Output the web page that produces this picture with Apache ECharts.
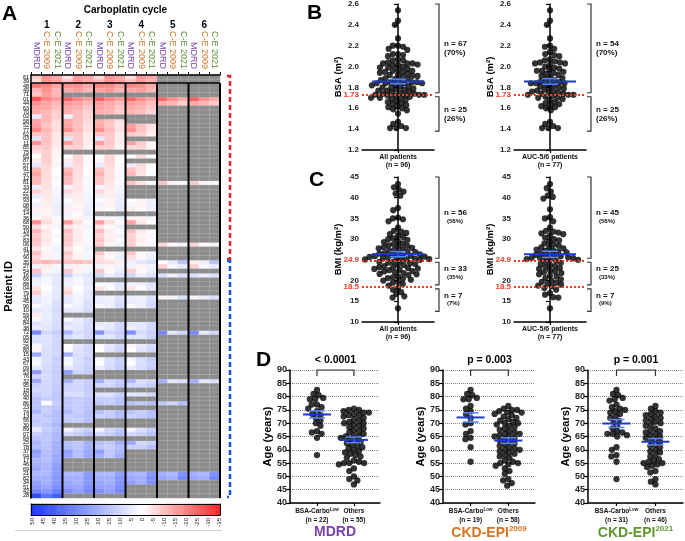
<!DOCTYPE html>
<html><head><meta charset="utf-8">
<script src="https://cdn.jsdelivr.net/npm/echarts@6/dist/echarts.min.js"></script>
<style>html,body{margin:0;padding:0;background:#fff}#c{width:685px;height:541px}</style>
</head><body><div id="c"></div>
<script>
// ---------------- DATA ----------------
const cycleNames = ['1','2','3','4','5','6'];
const formulaNames = ['MDRD','C-E 2009','C-E 2021'];
const patientIds = ['61','39','48','49','71','01','44','63','70','02','58','52','77','62','03','11','85','75','65','87','57','91','47','12','81','33','22','55','93','08','29','14','36','68','50','19','24','83','06','41','73','90','35','27','54','16','66','88','04','79','31','45','96','10','59','20','84','38','72','05','92','26','80','15','43','67','09','53','76','32','95','18','60','40','86','23','74','13','56','30','89','07','64','25','78','37','94','17','46','69','21','82','34','51','42','28'];
// % difference per cell: "MDRD C-E2009 C-E2021", "" = not given (grey)
const cycle1 = ["-8 -18 -14","-5 -18 -15","-22 -20 -15","-12 -18 -12","-10 -16 -12","-28 -20 -16","-18 -15 -12","-15 -14 -10","-14 -12 -8","5 -12 -8",
"-15 -12 -6","-16 -10 -5","-20 -12 -6","-10 -10 -4","6 -10 -4","-18 -10 -4","-8 -9 -3","-5 -8 -2","0 -8 -2","-3 -8 -1",
"6 -7 -2","-12 -6 0","-15 -6 0","-12 -6 2","-12 -5 0","4 -5 2","-8 -4 2","5 -4 3","2 -3 3","4 -3 4",
"-3 -2 4","3 -2 4","-2 -3 2","-18 -6 -2","-5 -2 3","-12 -4 0","-8 -3 2","-10 -4 0","-9 -3 2","-4 -1 3",
"-10 -2 2","-6 -2 3","-10 -12 -10","3 -3 2","-10 -2 3","12 4 6","4 2 5","3 2 6","-5 0 5","-8 2 6",
"5 3 6","6 3 8","2 4 8","6 5 9","-3 4 8","2 5 8","7 5 9","5 6 9","30 10 12","8 6 10",
"8 7 10","2 7 10","-2 8 10","22 8 10","3 8 12","1 8 11","6 9 12","25 10 12","10 9 12","22 10 12",
"12 10 13","10 10 13","12 10 14","15 12 14","15 0 12","15 12 14","18 12 16","12 14 16","14 12 16","12 14 18",
"5 12 16","12 14 18","15 14 18","18 14 20","16 15 20","25 16 20","22 16 22","18 16 22","20 18 24","22 18 25",
"18 18 25","20 20 26","24 20 26","26 22 28","30 26 32","45 35 40"];
const cycle2 = ["-4 -16 -14","-10 -17 -14","-18 -18 -14","-14 -16 -12","","-26 -20 -16","-17 -15 -12","-14 -13 -9","-13 -11 -7","4 -11 -7",
"-14 -11 -6","-15 -10 -5","-18 -11 -5","-9 -9 -3","6 -9 -3","-16 -9 -3","-7 -8 -2","","0 -7 -1","-3 -7 -1",
"5 -6 -1","-11 -6 0","-14 -5 0","-11 -5 2","-11 -4 1","3 -4 2","-7 -4 2","4 -3 3","1 -3 3","3 -2 4",
"-3 -2 4","3 -1 5","-2 -2 3","-16 -5 -1","-4 -2 3","-11 -3 1","-8 -3 2","-9 -3 1","-8 -2 2","-4 -1 3",
"-9 -2 2","-6 -2 3","-10 -11 -9","3 -2 2","-9 -2 3","11 4 6","4 2 5","3 2 6","-4 0 5","-7 2 6",
"5 3 6","6 3 8","2 4 8","6 5 9","","2 5 9","7 5 9","5 6 10","18 8 10","8 6 10",
"","0 6 10","1 7 10","20 8 10","3 8 12","1 8 11","6 9 12","24 10 12","","20 10 12",
"11 10 13","10 10 13","8 8 12","14 12 14","14 12 14","14 12 15","17 12 16","12 14 16","13 12 16","",
"2 8 12","10 12 16","","16 14 20","16 15 20","24 16 22","22 16 22","","","",
"18 18 25","20 20 26","22 20 26","24 22 28","28 24 30",""];
const cycle3 = ["-6 -18 -15","-12 -18 -15","-20 -19 -15","-15 -17 -12","","-26 -20 -16","-16 -14 -11","-15 -13 -9","-13 -12 -8","",
"-13 -10 -5","-14 -9 -4","-18 -11 -5","-10 -9 -3","5 -9 -3","-16 -9 -3","-8 -8 -2","","-1 -7 -1","-2 -7 0",
"5 -6 -1","-10 -5 1","-13 -5 1","-10 -5 2","-10 -4 1","3 -4 3","-7 -3 3","4 -3 4","1 -2 4","3 -2 5",
"-2 -1 5","","-1 -2 3","-16 -5 -1","-4 -1 4","-11 -3 1","-7 -2 3","-9 -3 1","-8 -2 3","",
"-9 -2 3","-5 -1 4","-6 -5 -3","3 -2 3","-9 -1 4","10 4 7","","2 2 6","-4 1 6","",
"4 3 7","5 4 8","2 4 9","","","","6 5 10","4 6 10","28 10 12","7 6 11",
"","-1 6 10","0 7 11","","2 8 12","0 8 12","5 9 13","","","20 10 13",
"10 10 14","","7 7 12","12 12 15","14 12 15","","16 12 17","11 13 16","","",
"2 10 14","10 12 16","","16 14 20","14 12 16","24 14 18","20 14 20","","","",
"18 18 24","20 20 26","22 20 27","24 22 28","28 24 30",""];
const cycle4 = ["-5 -17 -14","-10 -16 -13","-20 -18 -14","-14 -16 -12","","-25 -19 -15","-16 -14 -11","-14 -12 -9","-12 -11 -7","",
"","-16 -10 -5","-18 -10 -4","-9 -8 -3","","-15 -8 -2","-6 -7 -2","","0 -6 -1","",
"4 -6 -1","-10 -5 0","-12 -4 1","","-10 -4 1","","","","0 -2 4","2 -2 4",
"-3 -1 4","","-2 -2 3","-15 -4 0","","-10 -3 1","-7 -2 2","-8 -3 1","-8 -2 2","",
"-9 -1 3","-5 -1 4","4 6 8","3 -2 3","-8 -1 4","10 4 7","","3 3 7","-4 1 6","",
"4 3 7","5 4 9","1 4 9","","","","6 6 10","4 6 10","28 9 12","7 7 11",
"","-2 5 9","0 7 10","","2 9 13","0 8 12","5 9 13","","","18 8 10",
"10 10 13","","6 6 10","","15 13 16","","15 12 16","11 13 16","","",
"1 8 12","10 12 15","","22 10 12","12 12 16","","","","","",
"20 18 26","22 20 28","24 20 28","","",""];
const cycle5 = ["","","","","","-25 -18 -14","-14 -12 -8","","","",
"","","","","","","","","","",
"","","","","-10 -2 2","","","","","",
"","","","","","","","","-7 -1 3","",
"","","0 5 15","-8 2 5","","8 3 8","","","","",
"-2 3 8","","","","","","","","30 6 10","",
"","","","","","","","","","20 6 8",
"","","","","14 10 16","","","","","",
"","","","","","","","","","",
"20 18 28","22 20 30","","","",""];
const cycle6 = ["","","","","","-26 -18 -14","-14 -12 -9","","","",
"","","","","","","","","","",
"","","","","-9 -2 2","","","","","",
"","","","","","","","","-7 -1 3","",
"","","-3 4 15","-8 2 5","","8 4 8","","","","",
"-2 4 8","","","","","","","","30 5 10","",
"","","","","","","","","","20 6 8",
"","","","","","","","","","",
"","","","","","","","","","",
"20 18 28","22 20 30","","","",""];
const colorbarTicks = [50,45,40,35,30,25,20,15,10,5,0,-5,-10,-15,-20,-25,-30,-35];
const rowGroups = [42, 54];

const bsaAll = [2.54,2.44,2.40,2.27,2.20,2.20,2.19,2.17,2.16,2.12,2.12,2.11,2.10,2.07,2.06,2.06,2.04,2.03,2.03,2.03,
2.02,2.02,2.01,2.00,1.99,1.99,1.98,1.97,1.96,1.96,1.95,1.95,1.94,1.93,1.92,1.92,1.91,1.91,1.90,1.89,
1.88,1.88,1.87,1.86,1.85,1.85,1.85,1.84,1.84,1.84,1.84,1.83,1.82,1.81,1.81,1.80,1.80,1.79,1.78,1.78,
1.77,1.77,1.76,1.75,1.75,1.74,1.74,1.73,1.73,1.73,1.73,
1.72,1.72,1.71,1.70,1.70,1.70,1.69,1.68,1.67,1.66,1.65,1.64,1.63,1.62,1.61,1.60,1.59,1.58,1.55,1.47,1.45,1.43,1.41,1.41,1.41];
const bsaAuc = [2.54,2.44,2.40,2.27,2.20,2.19,2.17,2.14,2.12,2.11,2.10,2.07,2.06,2.05,2.04,2.04,2.03,2.03,2.02,2.00,
1.99,1.98,1.97,1.96,1.95,1.94,1.93,1.92,1.91,1.90,1.89,1.88,1.87,1.86,1.85,1.85,1.84,1.84,1.84,1.83,
1.82,1.81,1.80,1.80,1.79,1.78,1.77,1.77,1.76,1.75,1.75,1.74,1.74,1.96,1.73,1.73,1.73,
1.72,1.71,1.70,1.70,1.69,1.68,1.66,1.65,1.64,1.63,1.62,1.61,1.60,1.58,1.47,1.45,1.43,1.41,1.41,1.41];
const bmiAll = [43.3,42.5,42.0,41.5,41.0,40.5,37.5,37.0,35.2,35.0,34.8,34.3,32.8,32.0,31.8,31.5,31.2,30.8,30.5,30.2,
29.8,29.5,29.3,29.0,28.8,28.5,28.2,28.0,27.8,27.6,27.4,27.2,27.0,26.9,26.7,26.6,26.5,26.3,26.2,26.0,
26.0,25.9,25.8,25.7,25.6,25.5,25.4,25.3,25.2,25.1,25.1,25.0,25.0,27.9,28.4,30.0,
24.8,24.6,24.5,24.3,24.2,24.0,23.8,23.7,23.5,23.3,23.2,23.0,22.9,22.8,22.6,22.5,22.3,22.2,22.0,21.8,
21.6,21.5,21.3,21.0,20.8,20.6,20.5,20.2,20.0,19.7,19.5,19.2,18.8,
18.2,17.8,17.2,16.8,16.2,15.9,13.3];
const bmiAuc = [43.3,42.3,41.5,40.5,40.2,39.8,37.2,35.3,35.0,34.3,32.8,32.0,31.8,31.6,31.4,31.2,30.8,30.4,30.0,29.7,
29.4,29.0,28.7,28.4,28.1,27.8,27.5,27.3,27.0,26.8,26.6,26.4,26.2,26.0,25.9,25.8,25.6,25.5,25.4,25.3,
25.2,25.1,25.0,28.0,27.2,
24.8,24.5,24.3,24.0,23.8,23.5,23.2,23.0,22.8,22.5,22.2,22.0,21.8,21.5,21.2,21.0,20.6,20.3,20.0,19.7,
19.5,19.2,19.0,18.8,18.6,
18.2,17.8,17.0,16.6,16.0,15.9,13.3];
const ageMdrdLow = [82.5,81,80.5,79.5,79,79,77,77,76,75.5,74.5,73.5,73,72,71,70,69,67,66.5,66,64.5,58];
const ageMdrdOthers = [75.5,75,75,74.5,74,74,73.5,73,73,72.5,72,71.5,71,70.5,70,70,69.5,69,68.5,68,
67.5,67,66.5,66,65.5,65,65,64.5,64,63.5,63,62.5,62,61.5,61,60.5,60,59.5,59,58.5,
58,57.5,57,56,55.5,55,55,55,54.5,53,52,50,49,48.5,47];
const ageCke09Low = [82.5,81,80.5,79.5,79,79,76.5,75.5,74.5,73.5,72,70,69.5,67,66,64.5,64,61,55.5];
const ageCke09Others = [76.5,75.5,75,75,74.5,74,74,73.5,73,72.5,72,71.5,71,70.5,70,70,69.5,69,68.5,68,
67.5,67,66.5,66,66,65.5,65,65,64.5,64,63.5,63,62.5,62,61.5,61,60.5,60,59.5,59,
58.5,58,57.5,57,56,55.5,55,55,54.5,54,53,52,51,49,48.5,47.5,46.5,60];
const ageCke21Low = [82.5,81,80.5,79.5,79,78.5,77,76,75.5,75,74.5,74,73.5,72.5,72,71,70.5,69,68,67,
66.5,66,66,65.5,65,61,60,58,57.5,55.5,49];
const ageCke21Others = [76.5,75.5,74.5,74,73.5,73,72.5,72,71.5,71,70.5,70,69.5,69,68,67.5,67,66.5,66,65.5,
65,64.5,64,63.5,63,62,61.5,61,60,59.5,59,58,57.5,56.5,56,55.5,55,55,54.5,54,53.5,52,51.5,49,48,47];
const bsaCuts = [1.73];
const bmiCuts = [24.9, 18.5];
const bsaAllLabels = [['n = 67','(70%)'],['n = 25','(26%)']];
const bsaAucLabels = [['n = 54','(70%)'],['n = 25','(26%)']];
const bmiAllLabels = [['n = 56','(58%)'],['n = 33','(35%)'],['n = 7','(7%)']];
const bmiAucLabels = [['n = 45','(58%)'],['n = 25','(33%)'],['n = 7','(9%)']];
const pValues = ['< 0.0001','p = 0.003','p = 0.001'];

// ---------------- STYLE / LAYOUT ----------------
const FONT = "'Liberation Sans', Arial, sans-serif";
const formulaColors = ['#7b45b5','#d07628','#5a8c33'];
const titleColors = ['#7a3fb0','#d9731f','#5e9631'];
const meanColor = '#1a3ad6', semColor = '#5a86f5', cutColor = '#ee3a24';
const G = {
  heat:{left:31, top:75, width:189, height:423},
  cb:{left:31, top:504, width:189, height:11},
  b1:{left:362, top:4, width:72, height:146}, b2:{left:514, top:4, width:72, height:146},
  c1:{left:362, top:177, width:72, height:145}, c2:{left:514, top:177, width:72, height:145},
  d1:{left:290, top:370, width:90, height:133}, d2:{left:443, top:370, width:92, height:133}, d3:{left:588, top:370, width:95, height:133}
};
const BSA_R = [1.2, 2.6, 0.2], BMI_R = [10, 45, 5], AGE_R = [40, 90, 5];
const DOT = 6.2, DDOT = 6.3;
const PACK = 0.84;   // dots may overlap slightly, as in the original
const lowX = 0.6, othX = 1.42;

// ---------------- HELPERS ----------------
function swarm(vals, center, pxX, pxY, d) {
  const idx = vals.map((_, i) => i).sort((a, b) => vals[b] - vals[a]);
  const placed = [], out = [];
  for (const i of idx) {
    const y = vals[i] * pxY;
    const cands = [0];
    for (const p of placed) {
      const dy = y - p.y;
      if (Math.abs(dy) < d) { const dx = Math.sqrt(d*d - dy*dy); cands.push(p.x + dx, p.x - dx); }
    }
    cands.sort((a, b) => Math.abs(a) - Math.abs(b) || a - b);
    let bx = 0;
    for (const c of cands) {
      let ok = true;
      for (const p of placed) { const dx = p.x - c, dy = p.y - y; if (dx*dx + dy*dy < d*d - 1e-6) { ok = false; break; } }
      if (ok) { bx = c; break; }
    }
    placed.push({x: bx, y});
    out.push([center + bx / pxX, vals[i]]);
  }
  return out;
}
function stats(v) {
  const n = v.length, m = v.reduce((a, b) => a + b, 0) / n;
  const sd = Math.sqrt(v.reduce((a, b) => a + (b - m) * (b - m), 0) / (n - 1));
  return [m, sd / Math.sqrt(n)];
}
function colorAt(v) {
  let r, g, b;
  if (v < 0) { const t = Math.min(1, -v / 35); r = 255; g = b = Math.round(255 - 215 * t); }
  else { const t = Math.min(1, v / 50); r = Math.round(255 - 230 * t); g = Math.round(255 - 200 * t); b = 255; }
  return `rgb(${r},${g},${b})`;
}
const cbMin = Math.min(...colorbarTicks), cbMax = Math.max(...colorbarTicks);
const cbColors = [];
for (let v = cbMin; v <= cbMax; v += 5) cbColors.push(colorAt(v));

// heatmap data
const cycles = [cycle1, cycle2, cycle3, cycle4, cycle5, cycle6].map(a => a.map(s => s ? s.split(' ').map(Number) : null));
const colCats = [];
cycleNames.forEach(c => formulaNames.forEach((f, k) => colCats.push({value: c + ' ' + f, textStyle: {color: formulaColors[k]}})));
const heatData = [], grayData = [];
for (let r = 0; r < patientIds.length; r++) {
  for (let c = 0; c < cycles.length; c++) {
    const cell = cycles[c][r];
    for (let f = 0; f < formulaNames.length; f++) {
      const x = c * formulaNames.length + f;
      if (cell) heatData.push([x, r, cell[f]]); else grayData.push([x, r, 0]);
    }
  }
}
const cbCats = [];
for (let v = cbMax; v >= cbMin; v--) cbCats.push(String(v));
const cbSet = new Set(colorbarTicks.map(String));
const rowSpans = []; { let s = 0; rowGroups.forEach(n => { rowSpans.push([s, s + n - 1]); s += n; }); }
const bracketColors = ['#e8262a', '#1f4fe0'];
const sepData = []; for (let k = 0; k <= cycleNames.length; k++) sepData.push([k * formulaNames.length, 0]);

// ---------------- OPTION PIECES ----------------
const grids = [G.heat, G.heat, G.cb, G.b1, G.b2, G.c1, G.c2, G.d1, G.d2, G.d3];
const blackLine = {lineStyle: {color: '#000', width: 1.5}};
const xAxes = [
  {gridIndex:0, type:'category', position:'top', data:colCats, z:10, axisLine:blackLine,
    axisTick:{show:true, length:3, interval:0, lineStyle:{color:'#000'}},
    axisLabel:{interval:0, rotate:90, margin:6, fontSize:9, fontFamily:FONT, formatter: v => v.slice(v.indexOf(' ') + 1)}, splitLine:{show:false}},
  {gridIndex:1, type:'value', position:'top', min:0, max:cycleNames.length*formulaNames.length, interval:formulaNames.length,
    axisLine:{show:false}, axisTick:{show:true, length:48, lineStyle:{color:'#000', width:2}}, axisLabel:{show:false}, splitLine:{show:false}},
  {gridIndex:1, type:'category', position:'top', offset:53, data:cycleNames, axisLine:{show:false}, axisTick:{show:false},
    axisLabel:{fontSize:10, fontWeight:'bold', margin:0, color:'#000', fontFamily:FONT},
    name:'Carboplatin cycle', nameLocation:'middle', nameGap:12, nameTextStyle:{fontSize:10, fontWeight:'bold', color:'#000', fontFamily:FONT}},
  {gridIndex:2, type:'category', data:cbCats, position:'bottom', z:10, axisLine:{lineStyle:{color:'#000', width:1}},
    axisTick:{inside:true, length:3, alignWithLabel:true, interval:(i, v) => cbSet.has(v), lineStyle:{color:'#000'}},
    axisLabel:{rotate:90, fontSize:6, margin:3, color:'#222', fontFamily:FONT, interval:(i, v) => cbSet.has(v)}},
  {gridIndex:2, type:'category', data:cbCats, position:'top', z:10, axisLine:{lineStyle:{color:'#000', width:1}}, axisTick:{show:false}, axisLabel:{show:false}}
];
const yAxes = [
  {gridIndex:0, type:'category', data:patientIds, inverse:true, z:10, axisLine:blackLine,
    axisTick:{length:2, interval:0, lineStyle:{color:'#000', width:0.5}},
    axisLabel:{interval:0, fontSize:5.5, margin:2, color:'#000', fontFamily:FONT},
    name:'Patient ID', nameLocation:'middle', nameGap:17, nameRotate:90, nameTextStyle:{fontSize:11, fontWeight:'bold', color:'#000', fontFamily:FONT}},
  {gridIndex:1, type:'value', min:0, max:1, show:false},
  {gridIndex:2, type:'category', data:[''], z:10, axisLine:{lineStyle:{color:'#000', width:1}}, axisTick:{show:false}, axisLabel:{show:false}},
  {gridIndex:2, type:'category', data:[''], position:'right', z:10, axisLine:{lineStyle:{color:'#000', width:1}}, axisTick:{show:false}, axisLabel:{show:false}}
];
const series = [
  {type:'heatmap', xAxisIndex:0, yAxisIndex:0, data:heatData, itemStyle:{borderColor:'rgba(255,255,255,0.25)', borderWidth:0.4}},
  {type:'heatmap', xAxisIndex:0, yAxisIndex:0, data:grayData, itemStyle:{color:'#8c8c8c', borderColor:'rgba(255,255,255,0.3)', borderWidth:0.5}},
  {type:'custom', xAxisIndex:1, yAxisIndex:1, z:5, clip:false, data:sepData,
    renderItem:(params, api) => {
      const cs = params.coordSys, x = api.coord([api.value(0), 0])[0];
      const ch = [{type:'line', shape:{x1:x, y1:cs.y, x2:x, y2:cs.y + cs.height}, style:{stroke:'#000', lineWidth:2}}];
      if (params.dataIndex === 0) ch.push({type:'line', shape:{x1:cs.x, y1:cs.y, x2:cs.x + cs.width, y2:cs.y}, style:{stroke:'#000', lineWidth:1.5}});
      return {type:'group', children:ch};
    }},
  {type:'custom', xAxisIndex:0, yAxisIndex:0, z:5, clip:false, data:rowSpans.map(s => [0, s[0]]),
    renderItem:(params, api) => {
      const cs = params.coordSys, s = rowSpans[params.dataIndex], band = api.size([0, 1])[1];
      const top = api.coord([0, s[0]])[1] - band / 2 + 1, bot = api.coord([0, s[1]])[1] + band / 2 - 1;
      const x = cs.x + cs.width + 10;
      return {type:'polyline', shape:{points:[[x - 3, top], [x, top], [x, bot], [x - 3, bot]]},
        style:{stroke:bracketColors[params.dataIndex], lineWidth:2.5, lineDash:[5, 3], fill:'none'}};
    }},
  {type:'heatmap', xAxisIndex:3, yAxisIndex:2, data:cbCats.map((v, i) => [i, 0, Number(v)])}
];

// scatter panels
function addScatterPanel(gi, vals, range, cuts, labels, xLabel, yName, smallPct, hide) {
  const g = grids[gi];
  const xi = xAxes.length, yi = yAxes.length;
  xAxes.push({gridIndex:gi, type:'value', min:-1, max:1, axisLine:blackLine,
    axisTick:{customValues:[0], length:3, lineStyle:{color:'#000', width:1.2}},
    axisLabel:{customValues:[0], formatter:() => xLabel, fontSize:7, fontWeight:'bold', lineHeight:8, margin:3, color:'#111', fontFamily:FONT}, splitLine:{show:false}});
  yAxes.push({gridIndex:gi, type:'value', min:range[0], max:range[1], interval:range[2],
    axisLine:{show:true, lineStyle:{color:'#000', width:1.5}}, axisTick:{show:true, length:4, lineStyle:{color:'#000', width:1.2}},
    axisLabel:{fontSize:8, fontWeight:'bold', color:'#222', margin:3, fontFamily:FONT,
      formatter: v => (hide !== undefined && Math.abs(v - hide) < 1e-9) ? '' : (range[2] < 1 ? v.toFixed(1) : String(v))},
    splitLine:{show:false}, name:yName, nameLocation:'middle', nameGap:19, nameTextStyle:{fontSize:9.5, fontWeight:'bold', color:'#000', fontFamily:FONT}});
  const pxY = g.height / (range[1] - range[0]), pxX = g.width / 2;
  series.push({type:'scatter', xAxisIndex:xi, yAxisIndex:yi, z:3, symbolSize:DOT, itemStyle:{color:'#000'},
    data: swarm(vals, 0, pxX, pxY, DOT * PACK),
    markLine:{silent:true, symbol:['none','none'], animation:false,
      lineStyle:{color:cutColor, type:'dotted', width:2},
      label:{show:true, position:'start', distance:3, formatter: p => String(p.value), color:cutColor, fontSize:8, fontWeight:'bold', fontFamily:FONT},
      data: cuts.map(c => ({yAxis:c}))}});
  const st = stats(vals);
  series.push(meanSeries(xi, yi, [[0, st[0], st[1]]], 26, 8));
  const bounds = [range[1], ...cuts, Math.min(...vals)];
  series.push({type:'custom', xAxisIndex:xi, yAxisIndex:yi, z:5, clip:false, data:labels.map((_, i) => [0, bounds[i]]),
    renderItem:(params, api) => {
      const i = params.dataIndex, n = labels.length, cs = params.coordSys;
      const top = api.coord([0, bounds[i]])[1] + (i > 0 ? 2 : 0);
      const bot = api.coord([0, bounds[i + 1]])[1] + (i === n - 1 ? 3 : -2);
      const x = cs.x + cs.width + 5, mid = (top + bot) / 2;
      return {type:'group', children:[
        {type:'polyline', shape:{points:[[x - 4, top], [x, top], [x, bot], [x - 4, bot]]}, style:{stroke:'#333', lineWidth:1.2, fill:'none'}},
        {type:'text', x:x + 5, y:mid - 0.5, style:{text:labels[i][0], font:`bold 8px ${FONT}`, fill:'#111', verticalAlign:'bottom', align:'left'}},
        {type:'text', x:x + (smallPct ? 8 : 5), y:mid + 0.5, style:{text:labels[i][1], font: smallPct ? `bold 6px ${FONT}` : `bold 8px ${FONT}`, fill:'#111', verticalAlign:'top', align:'left'}}
      ]};
    }});
}
function meanSeries(xi, yi, data, hw, cw) {
  return {type:'custom', xAxisIndex:xi, yAxisIndex:yi, z:6, clip:false, data:data.map(d => [d[0], d[1]]),
    renderItem:(params, api) => {
      const d = data[params.dataIndex];
      const c = api.coord([d[0], d[1]]), hi = api.coord([d[0], d[1] + d[2]]), lo = api.coord([d[0], d[1] - d[2]]);
      const s = {stroke:semColor, lineWidth:1.5};
      return {type:'group', children:[
        {type:'line', shape:{x1:c[0], y1:hi[1], x2:c[0], y2:lo[1]}, style:s},
        {type:'line', shape:{x1:c[0] - cw, y1:hi[1], x2:c[0] + cw, y2:hi[1]}, style:s},
        {type:'line', shape:{x1:c[0] - cw, y1:lo[1], x2:c[0] + cw, y2:lo[1]}, style:s},
        {type:'line', shape:{x1:c[0] - hw, y1:c[1], x2:c[0] + hw, y2:c[1]}, style:{stroke:meanColor, lineWidth:2}}
      ]};
    }};
}
addScatterPanel(3, bsaAll, BSA_R, bsaCuts, bsaAllLabels, `All patients\n(n = ${bsaAll.length})`, 'BSA (m²)', false);
addScatterPanel(4, bsaAuc, BSA_R, bsaCuts, bsaAucLabels, `AUC-5/6 patients\n(n = ${bsaAuc.length})`, 'BSA (m²)', false);
addScatterPanel(5, bmiAll, BMI_R, bmiCuts, bmiAllLabels, `All patients\n(n = ${bmiAll.length})`, 'BMI (kg/m²)', true, 25);
addScatterPanel(6, bmiAuc, BMI_R, bmiCuts, bmiAucLabels, `AUC-5/6 patients\n(n = ${bmiAuc.length})`, 'BMI (kg/m²)', true, 25);

// age panels
const agePanels = [
  {gi:7, low:ageMdrdLow, oth:ageMdrdOthers, title:'{t|MDRD}'},
  {gi:8, low:ageCke09Low, oth:ageCke09Others, title:'{t|CKD-EPI}{s|2009}'},
  {gi:9, low:ageCke21Low, oth:ageCke21Others, title:'{t|CKD-EPI}{s|2021}'}
];
agePanels.forEach((p, k) => {
  const g = grids[p.gi];
  const xi = xAxes.length, yi = yAxes.length;
  xAxes.push({gridIndex:p.gi, type:'value', min:0, max:2, axisLine:blackLine,
    axisTick:{customValues:[lowX, othX], length:3, lineStyle:{color:'#000', width:1.2}},
    axisLabel:{customValues:[lowX, othX], margin:4,
      formatter: v => v < 1 ? `{a|BSA-Carbo}{s|Low}\n{a|(n = ${p.low.length})}` : `{a|Others}\n{a|(n = ${p.oth.length})}`,
      rich:{a:{fontSize:6.5, fontWeight:'bold', color:'#111', lineHeight:9, fontFamily:FONT}, s:{fontSize:4.5, fontWeight:'bold', color:'#111', lineHeight:9, verticalAlign:'top', fontFamily:FONT}}},
    splitLine:{show:false}, name:p.title, nameLocation:'middle', nameGap:21,
    nameTextStyle:{rich:{t:{fontSize:14, fontWeight:'bold', color:titleColors[k], fontFamily:FONT, lineHeight:16}, s:{fontSize:8, fontWeight:'bold', color:titleColors[k], fontFamily:FONT, verticalAlign:'top', lineHeight:16}}}});
  yAxes.push({gridIndex:p.gi, type:'value', min:AGE_R[0], max:AGE_R[1], interval:AGE_R[2],
    axisLine:{show:true, lineStyle:{color:'#000', width:1.5}}, axisTick:{show:true, length:4, lineStyle:{color:'#000', width:1.2}},
    axisLabel:{fontSize:9, fontWeight:'bold', color:'#222', margin:3, fontFamily:FONT},
    splitLine:{show:true, lineStyle:{color:'#888', type:'dotted', width:1}},
    name:'Age (years)', nameLocation:'middle', nameGap:16, nameTextStyle:{fontSize:11, fontWeight:'bold', color:'#000', fontFamily:FONT}});
  const pxY = g.height / (AGE_R[1] - AGE_R[0]), pxX = g.width / 2;
  series.push({type:'scatter', xAxisIndex:xi, yAxisIndex:yi, z:3, symbolSize:DDOT, itemStyle:{color:'#000'},
    data: swarm(p.low, lowX, pxX, pxY, DDOT * PACK).concat(swarm(p.oth, othX, pxX, pxY, DDOT * PACK))});
  const s1 = stats(p.low), s2 = stats(p.oth);
  series.push(meanSeries(xi, yi, [[lowX, s1[0], s1[1]], [othX, s2[0], s2[1]]], 14, 8));
  series.push({type:'custom', xAxisIndex:xi, yAxisIndex:yi, z:5, clip:false, data:[[lowX, AGE_R[1]]],
    renderItem:(params, api) => {
      const a = api.coord([lowX, AGE_R[1]]), b = api.coord([othX, AGE_R[1]]);
      return {type:'group', children:[
        {type:'polyline', shape:{points:[[a[0], a[1] + 6], [a[0], a[1]], [b[0], b[1]], [b[0], b[1] + 6]]}, style:{stroke:'#333', lineWidth:1.2, fill:'none'}},
        {type:'text', x:(a[0] + b[0]) / 2, y:a[1] - 4, style:{text:pValues[k], font:`bold 10.5px ${FONT}`, fill:'#000', align:'center', verticalAlign:'bottom'}}
      ]};
    }});
});

const option = {
  animation:false,
  textStyle:{fontFamily:FONT},
  grid: grids,
  xAxis: xAxes,
  yAxis: yAxes,
  visualMap:{type:'continuous', show:false, min:cbMin, max:cbMax, dimension:2, seriesIndex:[0, 4], inRange:{color:cbColors}},
  series: series,
  graphic:[
    {type:'text', left:2, top:4, style:{text:'A', font:`bold 21px ${FONT}`, fill:'#000'}},
    {type:'text', left:307, top:3, style:{text:'B', font:`bold 21px ${FONT}`, fill:'#000'}},
    {type:'text', left:309, top:170, style:{text:'C', font:`bold 21px ${FONT}`, fill:'#000'}},
    {type:'text', left:256, top:350, style:{text:'D', font:`bold 21px ${FONT}`, fill:'#000'}},
    {type:'line', shape:{x1:15, y1:530.5, x2:222, y2:530.5}, style:{stroke:'#d0d0d0', lineWidth:1}}
  ]
};
const chart = echarts.init(document.getElementById('c'), null, {renderer:'canvas'});
chart.setOption(option);
</script></body></html>
